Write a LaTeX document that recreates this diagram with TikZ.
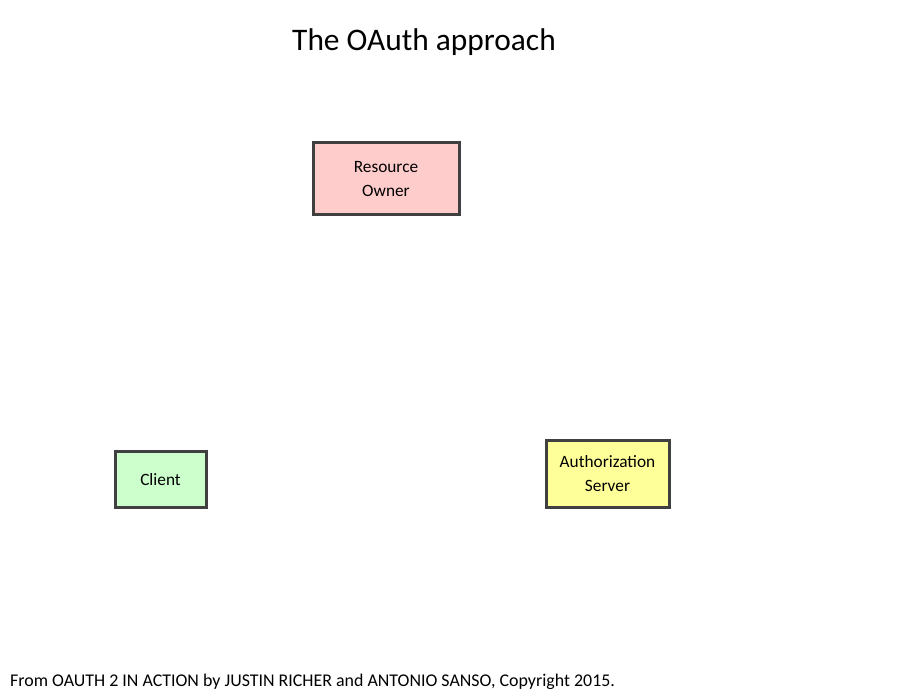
\documentclass[tikz,border=0pt]{standalone}
\usepackage{fontspec}
\setmainfont{Carlito}
\usepackage{tikz}

\definecolor{ownerfill}{HTML}{FFCCCC}
\definecolor{clientfill}{HTML}{CCFFCC}
\definecolor{serverfill}{HTML}{FFFF99}
\definecolor{boxline}{HTML}{404040}

\begin{document}
\begin{tikzpicture}[x=1pt,y=-1pt,
	party/.style={draw=boxline,line width=3pt,align=center,inner sep=0pt,
		font=\fontsize{17.3}{24}\selectfont}]
\useasboundingbox (0,0) rectangle (900,700);

\node (title) at (424,42) {\fontsize{31.4}{36}\selectfont The OAuth approach};

\node[party,fill=ownerfill,minimum width=146pt,minimum height=72pt] (owner) at (386,179) {Resource\\Owner};
\node[party,fill=clientfill,minimum width=91pt,minimum height=55pt] (client) at (160.5,479.5) {Client};
\node[party,fill=serverfill,minimum width=123pt,minimum height=66pt] (server) at (607.5,474) {Authorization\\Server};

\node[right,inner sep=0pt] (credit) at (10,682) {\fontsize{17.9}{20}\selectfont From OAUTH 2 IN ACTION by JUSTIN RICHER and ANTONIO SANSO, Copyright 2015.};
\end{tikzpicture}
\end{document}
